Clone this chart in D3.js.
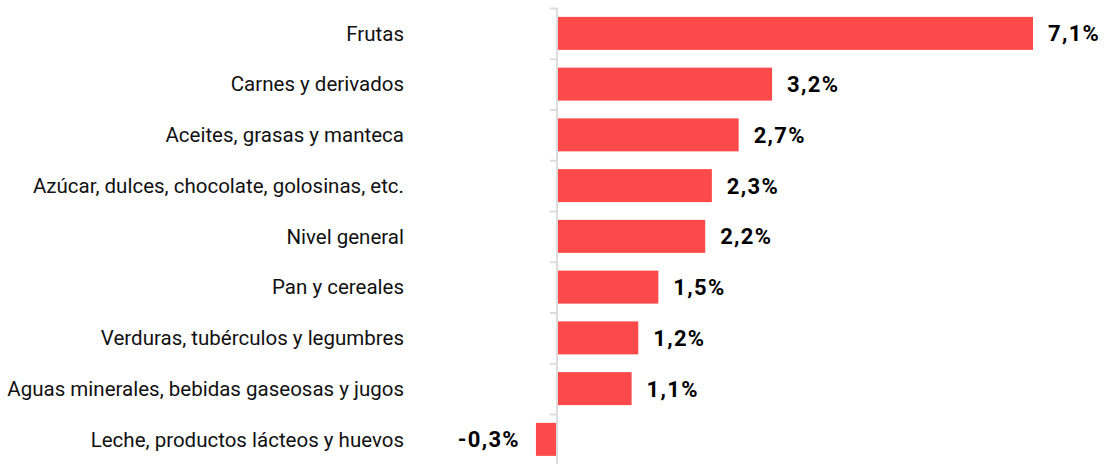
<!DOCTYPE html>
<html><head><meta charset="utf-8">
<script src="https://cdn.jsdelivr.net/npm/d3@7"></script>
<style>body{margin:0;background:#fff}svg{display:block}</style>
</head><body>
<svg id="c" width="1110" height="464"></svg>
<script>
const categories = ["Frutas","Carnes y derivados","Aceites, grasas y manteca","Azúcar, dulces, chocolate, golosinas, etc.","Nivel general","Pan y cereales","Verduras, tubérculos y legumbres","Aguas minerales, bebidas gaseosas y jugos","Leche, productos lácteos y huevos"];
const values = [7.1,3.2,2.7,2.3,2.2,1.5,1.2,1.1,-0.3];
const labels = ["7,1%","3,2%","2,7%","2,3%","2,2%","1,5%","1,2%","1,1%","-0,3%"];

const svg = d3.select("#c");
const x = d3.scaleLinear().domain([0,7.1]).range([557,1032]);
const y = d3.scaleBand().domain(categories).range([8,464.75]).paddingInner(0.35).paddingOuter(0.175);

const bounds = d3.range(categories.length).map(i => y.range()[0] + i*y.step());
svg.append("g").selectAll("line").data(bounds).join("line")
  .attr("x1",x(0)-7).attr("x2",x(0)).attr("y1",d=>d+0.5).attr("y2",d=>d+0.5)
  .attr("stroke","#dcdcdc").attr("stroke-width",2);
svg.append("line").attr("x1",x(0)).attr("x2",x(0)).attr("y1",8).attr("y2",464)
  .attr("stroke","#dcdcdc").attr("stroke-width",2);

svg.append("g").selectAll("rect").data(values).join("rect")
  .attr("x",(d)=>x(Math.min(0,d)) + (d>=0?1:-1))
  .attr("y",(d,i)=>y(categories[i]))
  .attr("width",d=>Math.abs(x(d)-x(0)))
  .attr("height",y.bandwidth())
  .attr("fill","#fc4949");

svg.append("g").selectAll("text").data(categories).join("text")
  .attr("x",404).attr("y",d=>y(d)+y.bandwidth()/2)
  .attr("dy","0.35em").attr("text-anchor","end")
  .attr("font-family","Roboto, sans-serif").attr("font-size",20.5).attr("fill","#111")
  .text(d=>d);

svg.append("g").selectAll("text").data(values).join("text")
  .attr("x",d=> d>=0 ? x(d)+16 : x(d)-17)
  .attr("y",(d,i)=>y(categories[i])+y.bandwidth()/2)
  .attr("dy","0.36em").attr("text-anchor",d=>d>=0?"start":"end")
  .attr("font-family","Roboto, sans-serif").attr("font-weight","bold").attr("font-size",22)
  .attr("letter-spacing",1.3).attr("fill","#000")
  .text((d,i)=>labels[i]);
</script>
</body></html>
